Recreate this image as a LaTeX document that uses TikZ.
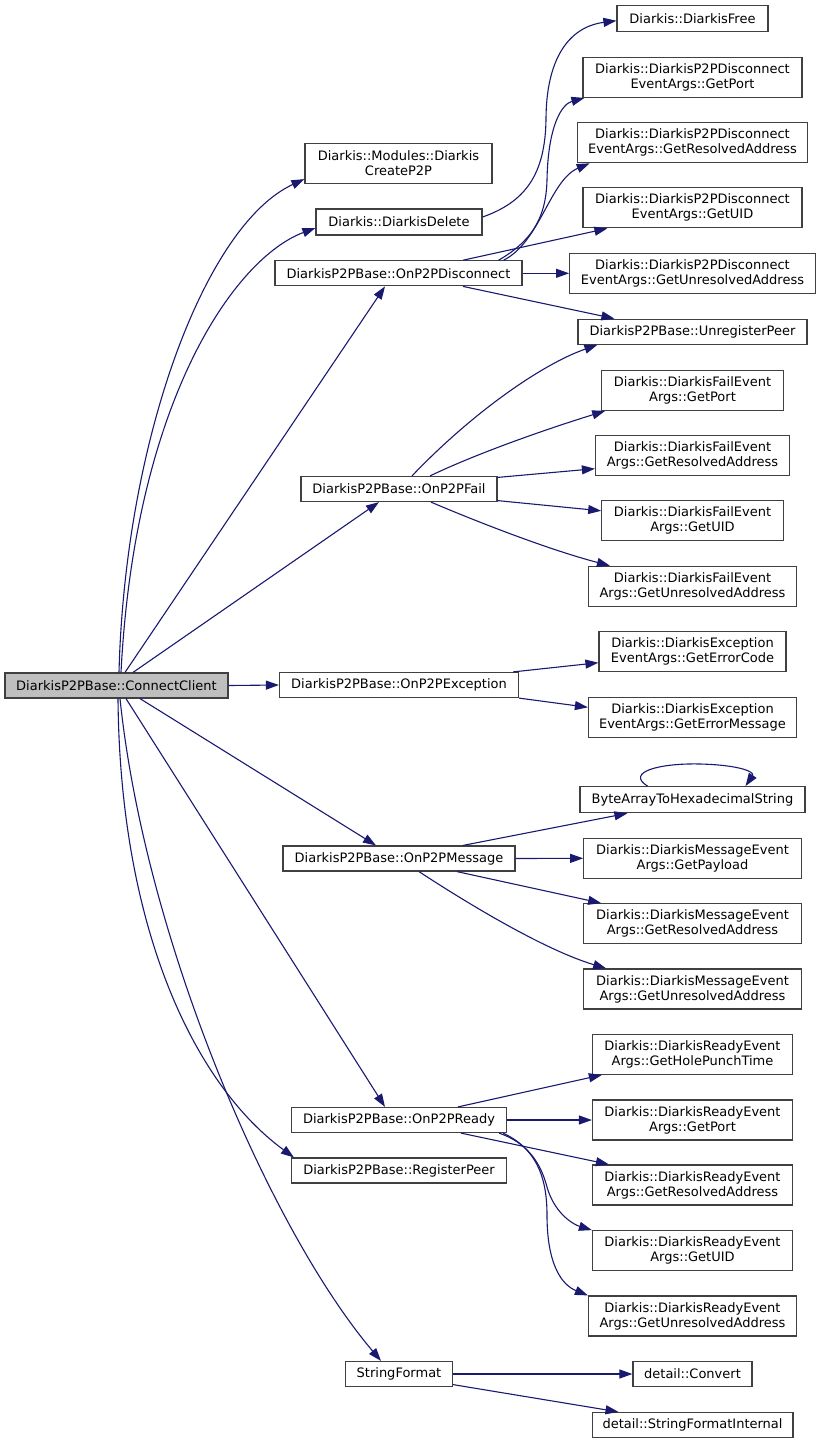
\documentclass[tikz,border=0pt]{standalone}
\usepackage{fontspec}
\setmainfont{DejaVu Sans}
\usetikzlibrary{arrows.meta,calc}
\definecolor{edgeblue}{RGB}{25,25,112}
\definecolor{boxline}{RGB}{64,64,64}
\definecolor{mainfill}{RGB}{191,191,191}
\begin{document}
\begin{tikzpicture}[x=1pt,y=-1pt,
  fn/.style={draw=boxline, fill=white, line width=1.2pt, inner sep=0pt, align=center,
             font=\fontsize{13}{15}\selectfont},
  one/.style={fn, minimum height=25pt},
  two/.style={fn, minimum height=40pt},
  call/.style={draw=edgeblue, line width=1.1pt, -{Triangle[length=13pt,width=9pt]}}]
\useasboundingbox (0,0) rectangle (821,1444);
% root
\node[one, fill=mainfill, minimum width=223pt] (cc) at (116.5,685.5) {DiarkisP2PBase::ConnectClient};
% column 2
\node[two, minimum width=187pt] (m1) at (398.5,163.5) {Diarkis::Modules::Diarkis\\CreateP2P};
\node[fn, minimum height=26pt, minimum width=166pt] (del) at (399,222) {Diarkis::DiarkisDelete};
\node[one, minimum width=247pt] (disc) at (398.5,273.3) {DiarkisP2PBase::OnP2PDisconnect};
\node[one, minimum width=196pt] (fail) at (399,489) {DiarkisP2PBase::OnP2PFail};
\node[one, minimum width=239pt] (exc) at (399,685) {DiarkisP2PBase::OnP2PException};
\node[one, minimum width=232pt] (msg) at (399,858.5) {DiarkisP2PBase::OnP2PMessage};
\node[one, minimum width=215pt] (ready) at (399,1120) {DiarkisP2PBase::OnP2PReady};
\node[one, minimum width=215pt] (reg) at (399,1170.5) {DiarkisP2PBase::RegisterPeer};
\node[one, minimum width=107pt] (sf) at (399,1374) {StringFormat};
% column 3
\node[fn, minimum height=26pt, minimum width=151pt] (free) at (692.5,18.7) {Diarkis::DiarkisFree};
\node[two, minimum width=219pt] (dport) at (692.5,77.3) {Diarkis::DiarkisP2PDisconnect\\EventArgs::GetPort};
\node[two, minimum width=230.5pt] (dres) at (692.5,142.7) {Diarkis::DiarkisP2PDisconnect\\EventArgs::GetResolvedAddress};
\node[two, minimum width=219pt] (duid) at (692.5,207.8) {Diarkis::DiarkisP2PDisconnect\\EventArgs::GetUID};
\node[two, minimum width=245.6pt] (dunres) at (692.5,273.3) {Diarkis::DiarkisP2PDisconnect\\EventArgs::GetUnresolvedAddress};
\node[one, minimum width=229pt] (unreg) at (692.5,331.7) {DiarkisP2PBase::UnregisterPeer};
\node[two, minimum width=181.4pt] (fport) at (692.5,390.3) {Diarkis::DiarkisFailEvent\\Args::GetPort};
\node[two, minimum width=194pt] (fres) at (692.5,455.8) {Diarkis::DiarkisFailEvent\\Args::GetResolvedAddress};
\node[two, minimum width=181.4pt] (fuid) at (692.5,520.8) {Diarkis::DiarkisFailEvent\\Args::GetUID};
\node[two, minimum width=208pt] (funres) at (692.5,586.3) {Diarkis::DiarkisFailEvent\\Args::GetUnresolvedAddress};
\node[two, minimum width=187pt] (ecode) at (692.5,651.7) {Diarkis::DiarkisException\\EventArgs::GetErrorCode};
\node[two, minimum width=208pt] (emsg) at (692.5,717.3) {Diarkis::DiarkisException\\EventArgs::GetErrorMessage};
\node[fn, minimum height=26pt, minimum width=225pt] (hex) at (692.5,799.7) {ByteArrayToHexadecimalString};
\node[two, minimum width=217.5pt] (mpay) at (692.5,858.3) {Diarkis::DiarkisMessageEvent\\Args::GetPayload};
\node[two, minimum width=217.5pt] (mres) at (692.5,923.7) {Diarkis::DiarkisMessageEvent\\Args::GetResolvedAddress};
\node[two, minimum width=217.5pt] (munres) at (692.5,989) {Diarkis::DiarkisMessageEvent\\Args::GetUnresolvedAddress};
\node[two, minimum width=200pt] (rhole) at (692.5,1054.3) {Diarkis::DiarkisReadyEvent\\Args::GetHolePunchTime};
\node[two, minimum width=200pt] (rport) at (692.5,1120) {Diarkis::DiarkisReadyEvent\\Args::GetPort};
\node[two, minimum width=200pt] (rres) at (692.5,1185) {Diarkis::DiarkisReadyEvent\\Args::GetResolvedAddress};
\node[two, minimum width=200pt] (ruid) at (692.5,1250.7) {Diarkis::DiarkisReadyEvent\\Args::GetUID};
\node[two, minimum width=208pt] (runres) at (692.5,1316) {Diarkis::DiarkisReadyEvent\\Args::GetUnresolvedAddress};
\node[one, minimum width=119pt] (conv) at (692.5,1374) {detail::Convert};
\node[one, minimum width=200.8pt] (sfi) at (692.5,1425) {detail::StringFormatInternal};
% edges from ConnectClient
\draw[call] ($(cc.north)+(2.5,0)$) .. controls (125,440) and (205,225) .. ($(m1.south west)+(0,-5)$);
\draw[call] ($(cc.north)+(4.5,0)$) .. controls (135,400) and (235,258) .. ($(del.west)+(0,6)$);
\draw[call] ($(cc.north)+(8.5,0)$) -- ($(disc.south)+(-13.5,0)$);
\draw[call] ($(cc.north)+(16.5,0)$) -- ($(fail.south)+(-20,0)$);
\draw[call] (cc.east) -- (exc.west);
\draw[call] ($(cc.south)+(23.5,0)$) -- ($(msg.north)+(-23,0)$);
\draw[call] ($(cc.south)+(9.5,0)$) -- ($(ready.north)+(-14,0)$);
\draw[call] ($(cc.south)+(1.5,0)$) .. controls (120,930) and (195,1085) .. ($(reg.north west)+(3,0)$);
\draw[call] ($(cc.south)+(3.5,0)$) .. controls (145,940) and (270,1230) .. ($(sf.north)+(-18,0)$);
% DiarkisDelete
\draw[call] ($(del.east)+(0,-5)$) .. controls (525,202) and (545,175) .. (546,120) .. controls (546,60) and (568,27) .. ($(free.west)+(0,2)$);
% OnP2PDisconnect
\draw[call] ($(disc.north east)+(-24,0)$) .. controls (530,242) and (546,220) .. (547,180) .. controls (548,125) and (562,104) .. ($(dport.south west)+(2,0)$);
\draw[call] ($(disc.north east)+(-19,0)$) .. controls (540,242) and (550,180) .. ($(dres.south west)+(13,0)$);
\draw[call] ($(disc.north)+(64.5,0)$) -- ($(duid.south west)+(25,0)$);
\draw[call] (disc.east) -- (dunres.west);
\draw[call] ($(disc.south)+(64.5,0)$) -- ($(unreg.north west)+(37,0)$);
% OnP2PFail
\draw[call] ($(fail.north)+(13,0)$) .. controls (470,415) and (540,365) .. ($(unreg.south west)+(20,0)$);
\draw[call] ($(fail.north)+(31,0)$) .. controls (480,452) and (550,428) .. ($(fport.south west)+(4,0)$);
\draw[call] ($(fail.north east)+(0,1.5)$) -- ($(fres.south west)+(0,-7.7)$);
\draw[call] ($(fail.south east)+(0,-1.5)$) -- ($(fuid.west)+(0,-10)$);
\draw[call] ($(fail.south)+(32,0)$) .. controls (480,523) and (550,550) .. ($(funres.north west)+(22,0)$);
% OnP2PException
\draw[call] ($(exc.north east)+(-6,0)$) -- ($(ecode.west)+(0,11)$);
\draw[call] (exc.south east) -- ($(emsg.west)+(0,-10)$);
% OnP2PMessage
\draw[call] ($(msg.north)+(64,0)$) -- ($(hex.south west)+(48,0)$);
\draw[call] (msg.east) -- (mpay.west);
\draw[call] ($(msg.south)+(58,0)$) -- ($(mres.north west)+(18,0)$);
\draw[call] ($(msg.south)+(20,0)$) .. controls (470,905) and (545,950) .. ($(munres.north west)+(23,0)$);
\draw[call] ($(hex.north)+(-45,0)$) .. controls (625,772) and (660,763) .. (700,764) .. controls (740,765) and (755,772) .. ($(hex.north)+(53,0)$);
% OnP2PReady
\draw[call] ($(ready.north)+(59,0)$) -- ($(rhole.south west)+(10,0)$);
\draw[call] (ready.east) -- (rport.west);
\draw[call] ($(ready.south)+(62,0)$) -- ($(rres.north west)+(17,0)$);
\draw[call] ($(ready.south east)+(-8,0)$) .. controls (525,1142) and (540,1160) .. (547,1187) .. controls (555,1215) and (575,1225) .. (ruid.north west);
\draw[call] ($(ready.south east)+(-4,0)$) .. controls (535,1148) and (547,1175) .. (547,1215) .. controls (547,1265) and (562,1285) .. (runres.north west);
% StringFormat
\draw[call] (sf.east) -- (conv.west);
\draw[call] ($(sf.south east)+(0,-2.5)$) -- ($(sfi.north west)+(27,0)$);
\end{tikzpicture}
\end{document}
